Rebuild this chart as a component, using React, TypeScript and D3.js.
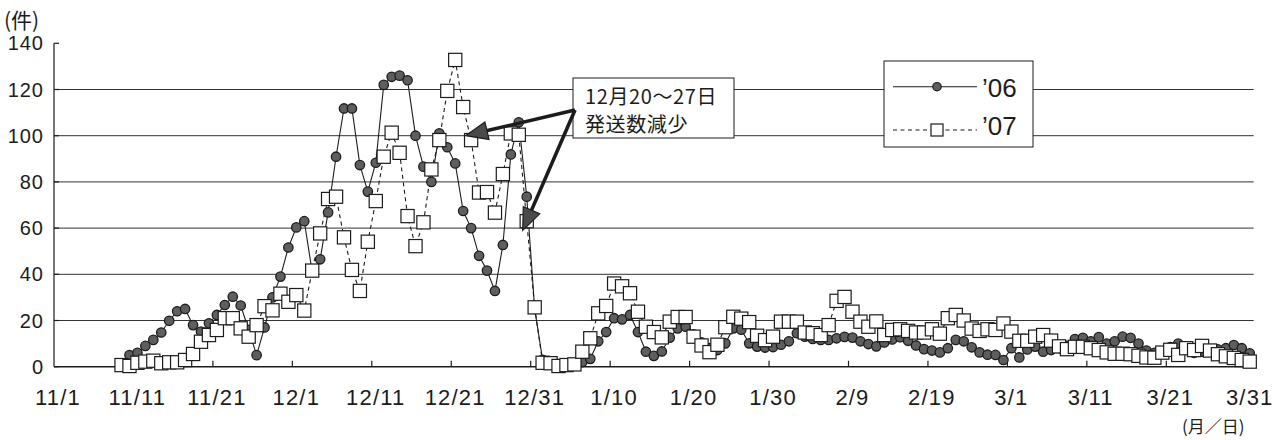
import React from "react";
import * as d3 from "d3";

// categories: every day from 11/1 to 3/31 (151 days)
const categories: Date[] = d3.timeDay.range(new Date(2006, 10, 1), new Date(2007, 3, 1));
const tickLabels = ["11/1", "11/11", "11/21", "12/1", "12/11", "12/21", "12/31", "1/10", "1/20", "1/30", "2/9", "2/19", "3/1", "3/11", "3/21", "3/31"];
const yTicks = [0, 20, 40, 60, 80, 100, 120, 140];

// '06 starts at 11/10 (index 9)
const start06 = 9;
const values06 = [
  5,
  6, 9, 11.6, 14.8, 19.9, 24, 25, 18, 15.2, 18.8,
  22.4, 26.7, 30.3, 26.5, 16, 5, 17, 30, 39, 51.6,
  60.3, 63, 41, 46.5, 66.8, 90.9, 111.8, 111.8, 87.3, 75.8,
  88.3, 122, 125.5, 126, 124, 100, 86.6, 80, 101, 95,
  88, 67.4, 60, 48, 41.6, 32.8, 52.7, 91.9, 105.8, 73.6,
  25, 3, 1, 0, 0, 1, 2, 3.4, 11, 15,
  21, 20.5, 22.4, 15, 6.5, 4.7, 6.6, 12.6, 16.6, 17.3,
  14, 10.5, 8, 7.2, 10.1, 16.6, 16, 10.1, 8.7, 8.3,
  8.5, 9.5, 11, 14.5, 13, 12, 11.6, 11.6, 12.3, 12.9,
  12.6, 11, 9.8, 8.8, 10.5, 11.8, 12.8, 11.2, 9.2, 7.6,
  7, 6.2, 8, 11.6, 11, 8.4, 6.2, 5.2, 5.1, 2.9,
  8, 4, 7.5, 8.7, 6.5, 7.2, 8, 9, 12, 12.5,
  11, 12.8, 10, 11, 13, 12.5, 10, 7, 6, 6.5,
  8.5, 10, 8, 6, 6.5, 7, 7.5, 8, 9.4, 8, 5.8,
];

// '07 starts at 11/9 (index 8)
const start07 = 8;
const values07 = [
  0.7, 0.3,
  1.7, 2.2, 2.6, 1.5, 1.9, 1.9, 2.9, 5.5, 10.8, 13.7,
  15.9, 21, 21, 16.6, 13, 18, 26.2, 24.4, 31.6, 28.1,
  31, 24.3, 41.6, 57.7, 72.6, 73.6, 56, 41.9, 32.8, 54.1,
  71.7, 90.9, 101.3, 92.6, 65.2, 52.2, 62.5, 85.4, 98.1, 119.4,
  132.8, 112.4, 98.1, 75.4, 75.6, 66.7, 83.4, 101, 100.4, 63,
  25.7, 1.7, 1.5, 0.3, 0.7, 1, 6.5, 12.3, 23.1, 26.3,
  36, 34.8, 31.8, 23.8, 17.3, 15, 12.7, 19.5, 21.5, 21.5,
  13, 9.2, 6.3, 9.5, 17.1, 21.6, 20.8, 19.3, 13.4, 11.5,
  13, 19.5, 19.5, 19.5, 14.8, 14.5, 13.7, 18, 28.5, 30.2,
  23.8, 19.5, 17.3, 19.6, 13.7, 15.9, 16.2, 15.5, 14.8, 14.8,
  16.2, 14.3, 21, 22.4, 20, 16.5, 15.5, 16.2, 15.9, 18.7,
  15.2, 11.2, 11.2, 13, 13.7, 11.3, 8.8, 7.6, 8.6, 8.6,
  8, 7.2, 6.2, 5.6, 5.6, 5.4, 4.7, 4, 3.9, 6.1,
  7.3, 5.1, 8, 7.2, 9, 7, 5.4, 4.5, 3.8, 2.9, 2.2,
];

const seriesNames = ["\u201906", "\u201907"];
const annotationLines = ["12月20〜27日", "発送数減少"];
// arrow targets in data units (category index, value)
const arrowTargets = [
  { i: 51.3, v: 100 },
  { i: 58.5, v: 59 },
];

const W = 1284;
const H = 440;

type Pt = { i: number; v: number };

export default function App() {
  const n = categories.length;
  const x = d3.scaleLinear().domain([0, n]).range([54, 1253.7]);
  const y = d3.scaleLinear().domain([0, 140]).range([366.7, 43.3]);
  const cx = (i: number) => x(i + 0.5);

  const s06: Pt[] = values06.map((v, k) => ({ i: start06 + k, v }));
  const s07: Pt[] = values07.map((v, k) => ({ i: start07 + k, v }));

  const line = d3
    .line<Pt>()
    .x((d) => cx(d.i))
    .y((d) => y(d.v));

  const latin = "'Liberation Sans', Arial, sans-serif";
  const cjk = "'Noto Sans CJK JP', 'Noto Sans', sans-serif";
  const ink = "#1c1c1c";
  const dotFill = "#5e5e5e";
  const sq = 13.2;

  // annotation box
  const box = { x: 573, y: 78, w: 161, h: 60 };
  const arrowStart = { x: box.x + 2, y: 110 };

  const arrow = (t: { i: number; v: number }, key: number) => {
    const tx = cx(t.i);
    const ty = y(t.v);
    const dx = tx - arrowStart.x;
    const dy = ty - arrowStart.y;
    const len = Math.sqrt(dx * dx + dy * dy);
    const ux = dx / len;
    const uy = dy / len;
    const headLen = 22;
    const headW = 9;
    const bx = tx - ux * headLen;
    const by = ty - uy * headLen;
    const px = -uy;
    const py = ux;
    const pts = [
      [tx, ty],
      [bx + px * headW, by + py * headW],
      [bx - px * headW, by - py * headW],
    ];
    return (
      <g key={key}>
        <line x1={arrowStart.x} y1={arrowStart.y} x2={bx + ux * 4} y2={by + uy * 4} stroke={ink} strokeWidth={3.6} />
        <polygon points={pts.map((p) => p.join(",")).join(" ")} fill="#4a4a4a" stroke={ink} strokeWidth={1.2} />
      </g>
    );
  };

  const legend = { x: 884, y: 61, w: 149, h: 86 };

  return (
    <svg width={W} height={H} style={{ position: "absolute", left: 0, top: 0, background: "#fff" }}>
      {/* gridlines */}
      {yTicks
        .filter((t) => t > 0 && t < 140)
        .map((t) => (
          <line key={t} x1={x(0)} x2={x(n)} y1={y(t)} y2={y(t)} stroke="#333" strokeWidth={1} />
        ))}
      {/* y axis */}
      <line x1={x(0)} x2={x(0)} y1={y(140)} y2={y(0)} stroke={ink} strokeWidth={1.2} />
      {yTicks.map((t) => (
        <line key={"yt" + t} x1={x(0)} x2={x(0) + 5} y1={y(t)} y2={y(t)} stroke={ink} strokeWidth={1.2} />
      ))}
      {yTicks.map((t) => (
        <text
          key={"yl" + t}
          x={44}
          y={y(t)}
          textAnchor="end"
          dominantBaseline="central"
          fontFamily={latin}
          fontSize={20}
          letterSpacing={1}
          fill={ink}
        >
          {t}
        </text>
      ))}
      {/* x axis */}
      <line x1={x(0)} x2={x(n)} y1={y(0)} y2={y(0)} stroke={ink} strokeWidth={1.4} />
      {d3.range(10, n, 10).map((i) => (
        <line key={"xt" + i} x1={x(i)} x2={x(i)} y1={y(0)} y2={y(0) - 6} stroke={ink} strokeWidth={1.2} />
      ))}
      {tickLabels.map((lab, k) => (
        <text
          key={"xl" + k}
          x={cx(k * 10)}
          y={405}
          textAnchor="middle"
          fontFamily={latin}
          fontSize={22}
          letterSpacing={1.2}
          fill={ink}
        >
          {lab}
        </text>
      ))}
      <text x={4} y={28} fontFamily={cjk} fontSize={21} fill={ink}>
        (件)
      </text>
      <text x={1182} y={433} fontFamily={cjk} fontSize={17} fill={ink}>
        (月／日)
      </text>

      {/* series lines */}
      <path d={line(s06) || ""} fill="none" stroke={ink} strokeWidth={1.1} />
      <path d={line(s07) || ""} fill="none" stroke={ink} strokeWidth={1.1} strokeDasharray="4,3.5" />

      {/* markers */}
      {s06.map((d) => (
        <circle key={"c" + d.i} cx={cx(d.i)} cy={y(d.v)} r={4.7} fill={dotFill} stroke={ink} strokeWidth={1.3} />
      ))}
      {s07.map((d) => (
        <rect
          key={"s" + d.i}
          x={cx(d.i) - sq / 2}
          y={y(d.v) - sq / 2}
          width={sq}
          height={sq}
          fill="#fff"
          stroke={ink}
          strokeWidth={1.2}
        />
      ))}

      {/* annotation */}
      <rect x={box.x} y={box.y} width={box.w} height={box.h} fill="#fff" stroke={ink} strokeWidth={1} />
      {annotationLines.map((t, k) => (
        <text
          key={"an" + k}
          x={box.x + 12}
          y={box.y + 26 + k * 28}
          fontFamily={cjk}
          fontSize={20}
          letterSpacing={0.6}
          fill={ink}
        >
          {t}
        </text>
      ))}
      {arrowTargets.map((t, k) => arrow(t, k))}

      {/* legend */}
      <rect x={legend.x} y={legend.y} width={legend.w} height={legend.h} fill="#fff" stroke={ink} strokeWidth={1} />
      <line x1={legend.x + 9} x2={legend.x + 93} y1={86.7} y2={86.7} stroke={ink} strokeWidth={1.1} />
      <circle cx={legend.x + 53} cy={86.7} r={4.2} fill={dotFill} stroke={ink} strokeWidth={1.2} />
      <line x1={legend.x + 9} x2={legend.x + 93} y1={130} y2={130} stroke={ink} strokeWidth={1.1} strokeDasharray="4,3.5" />
      <rect x={legend.x + 53 - 6} y={130 - 6} width={12} height={12} fill="#fff" stroke={ink} strokeWidth={1.2} />
      {seriesNames.map((s, k) => (
        <text key={"lg" + k} x={legend.x + 98} y={97 + k * 38} fontFamily={latin} fontSize={26} fill={ink}>
          {s}
        </text>
      ))}
    </svg>
  );
}
